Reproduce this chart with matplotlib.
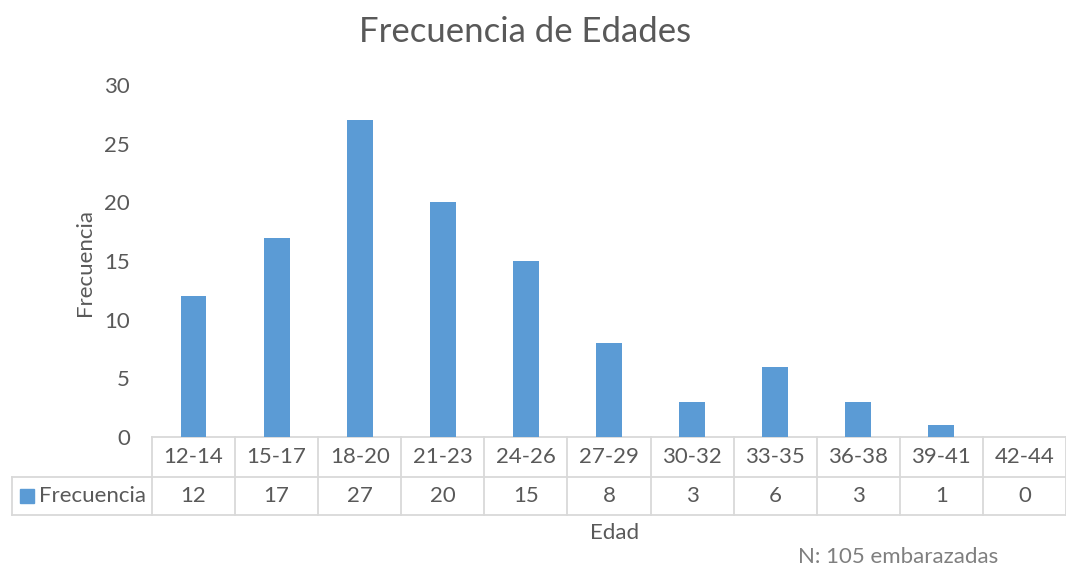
import matplotlib
matplotlib.use("Agg")
import matplotlib.pyplot as plt
import matplotlib.transforms as mtransforms

categories = ["12-14", "15-17", "18-20", "21-23", "24-26", "27-29", "30-32", "33-35", "36-38", "39-41", "42-44"]
values = [12, 17, 27, 20, 15, 8, 3, 6, 3, 1, 0]
series_name = "Frecuencia"

plt.rcParams['font.family'] = ['Lato', 'DejaVu Sans']
txt = '#595959'
grid = '#d9d9d9'
bar_color = '#5B9BD5'
fs = 16

W, H = 1066, 569
fig = plt.figure(figsize=(W/100, H/100), dpi=100)
ax_left, ax_right, ax_top, ax_bot = 152, 1066, 85, 437
ax = fig.add_axes([ax_left/W, 1-ax_bot/H, (ax_right-ax_left)/W, (ax_bot-ax_top)/H])

x = list(range(len(categories)))
ax.bar(x, values, width=0.31, color=bar_color, zorder=3)
ax.set_xlim(-0.5, len(categories)-0.5)
ax.set_ylim(0, 30)
ax.set_yticks([0, 5, 10, 15, 20, 25, 30])
ax.tick_params(axis='y', length=0, labelsize=fs, labelcolor=txt, pad=16)
ax.set_xticks([])
for s in ax.spines.values():
    s.set_visible(False)

# Table drawing
axh = ax_bot - ax_top
def ay(py):
    return (ax_bot - py)/axh
r0, r1, r2 = ay(437), ay(477), ay(515)
trans = mtransforms.blended_transform_factory(ax.transData, ax.transAxes)
n = len(categories)
lkw = dict(color=grid, lw=1.3, clip_on=False, transform=trans, zorder=1)
ax.plot([-0.5, n-0.5], [r0, r0], **lkw)
ax.plot([-0.5, n-0.5], [r1, r1], **lkw)
for i in range(n+1):
    ax.plot([i-0.5, i-0.5], [r0, r2], **lkw)
ax.plot([-0.5, n-0.5], [r2, r2], **lkw)
# legend cell
fkw = dict(color=grid, lw=1.3, clip_on=False, transform=fig.transFigure, zorder=1)
fx = lambda px: px/W
fy = lambda py: 1-py/H
fig.add_artist(plt.Line2D([fx(12), fx(ax_left)], [fy(477), fy(477)], **fkw))
fig.add_artist(plt.Line2D([fx(12), fx(ax_left)], [fy(515), fy(515)], **fkw))
fig.add_artist(plt.Line2D([fx(12), fx(12)], [fy(477), fy(515)], **fkw))

for i, (c, v) in enumerate(zip(categories, values)):
    ax.text(i, (r0+r1)/2, c, transform=trans, ha='center', va='center', fontsize=fs, color=txt)
    ax.text(i, (r1+r2)/2, str(v), transform=trans, ha='center', va='center', fontsize=fs, color=txt)

fig.patches.append(plt.Rectangle((fx(20), fy(503)), 14/W, 14/H, transform=fig.transFigure, color=bar_color))
fig.text(fx(39), fy(496), series_name, ha='left', va='center', fontsize=fs, color=txt)

fig.text(fx(525), fy(32), "Frecuencia de Edades", ha='center', va='center', fontsize=25, color=txt)
fig.text(fx(85), fy(262), "Frecuencia", ha='center', va='center', rotation=90, fontsize=fs, color=txt)
fig.text(fx(615), fy(533), "Edad", ha='center', va='center', fontsize=fs, color=txt)
fig.text(fx(898), fy(557), "N: 105 embarazadas", ha='center', va='center', fontsize=fs, color='#7f7f7f')

fig.savefig("out.png", dpi=100)
